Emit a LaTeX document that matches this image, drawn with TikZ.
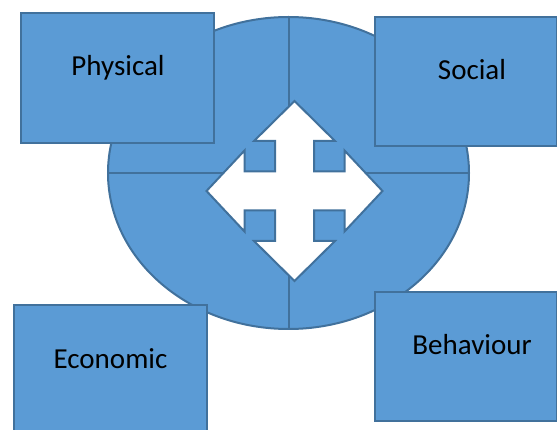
\documentclass[tikz,border=0pt]{standalone}
\usepackage{fontspec}
\usetikzlibrary{shapes.geometric}
\setmainfont{Carlito}
\definecolor{fillblue}{HTML}{5B9BD5}
\definecolor{edgeblue}{HTML}{41719C}
\begin{document}
\begin{tikzpicture}[x=1pt,y=-1pt,
  shapeline/.style={draw=edgeblue,line width=2pt},
  panel/.style={shapeline,fill=fillblue},
  caption/.style={anchor=base,font=\fontsize{29}{34}\selectfont,text=black,inner sep=0pt}]
\useasboundingbox (0,0) rectangle (557,430);
% central disc split into quarters
\node[panel,ellipse,minimum width=361pt,minimum height=312pt,inner sep=0pt,outer sep=0pt] (disc) at (288.5,173) {};
\draw[shapeline] (disc.north) -- (disc.south);
\draw[shapeline] (disc.west) -- (disc.east);
% four-way arrow
\begin{scope}[shift={(294.5,191)}]
\draw[shapeline,fill=white,line join=miter]
  (0,-90) -- (40.5,-50) -- (19.5,-50) -- (19.5,-19.5) -- (50,-19.5) -- (50,-40.5)
  -- (88,0) -- (50,40.5) -- (50,19.5) -- (19.5,19.5) -- (19.5,50) -- (40.5,50)
  -- (0,90) -- (-40.5,50) -- (-19.5,50) -- (-19.5,19.5) -- (-50,19.5) -- (-50,40.5)
  -- (-88,0) -- (-50,-40.5) -- (-50,-19.5) -- (-19.5,-19.5) -- (-19.5,-50) -- (-40.5,-50)
  -- cycle;
\end{scope}
% corner boxes
\draw[panel] (21,13) rectangle (214,143);
\node[caption] (physical) at (118,76) {Physical};
\draw[panel] (375,17) rectangle (556.5,146);
\node[caption] (social) at (472,80) {Social};
\draw[panel] (14,305) rectangle (207,440);
\node[caption] (economic) at (110.5,368) {Economic};
\draw[panel] (375,292) rectangle (556.5,421);
\node[caption] (behaviour) at (472,355) {Behaviour};
\end{tikzpicture}
\end{document}
